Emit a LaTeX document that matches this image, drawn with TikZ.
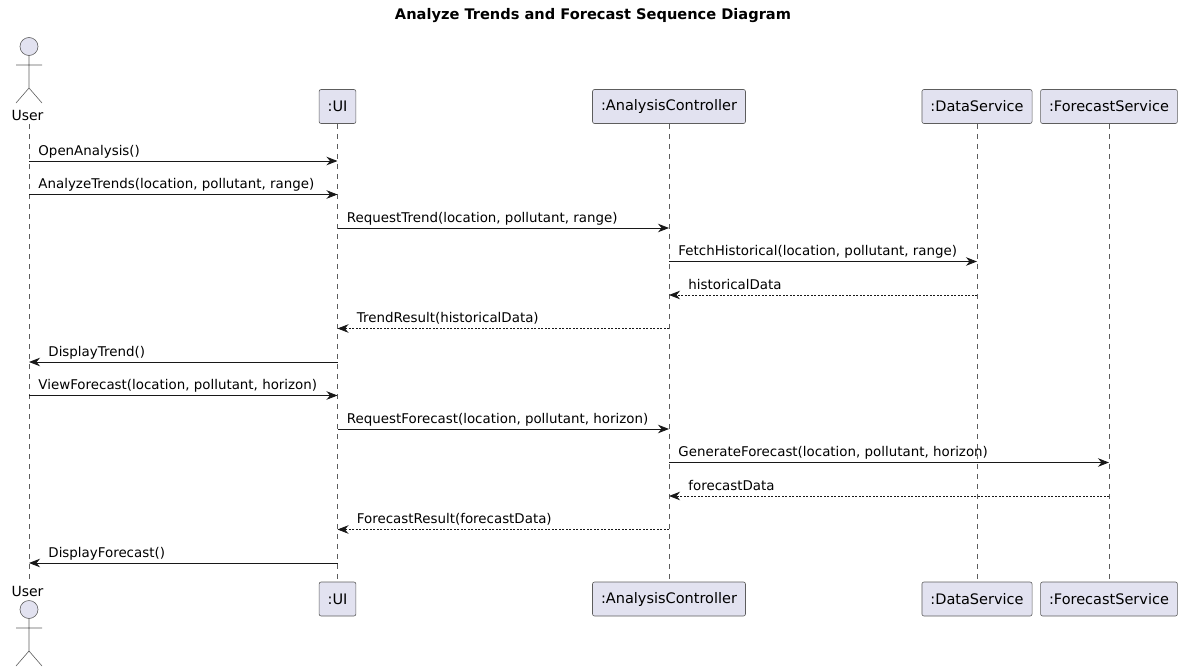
\documentclass[tikz,border=0pt]{standalone}
\usepackage{fontspec}
\setmainfont{DejaVu Sans}
\usepackage{xcolor}
\usetikzlibrary{arrows.meta, positioning}

\definecolor{partfill}{HTML}{E2E2F0}
\definecolor{ink}{HTML}{181818}

\tikzset{
  part/.style={draw=ink!70, fill=partfill, rounded corners=2pt, line width=0.6pt,
    minimum height=34pt, inner xsep=8.5pt, font=\fontsize{14.5}{16}\selectfont},
  life/.style={draw=ink!70, line width=0.6pt, dash pattern=on 5pt off 5pt},
  msg/.style={draw=ink, line width=0.9pt, -{Stealth[length=11pt, width=8.5pt, inset=3.5pt]}},
  ret/.style={msg, dash pattern=on 2pt off 1.5pt},
  lblr/.style={anchor=base west, inner sep=0pt, xshift=9pt, yshift=6pt, font=\fontsize{13.4}{15}\selectfont},
  lbll/.style={lblr, xshift=10pt},
  stick/.style={draw=ink!70, line width=0.6pt},
}

\begin{document}
\begin{tikzpicture}[x=1pt, y=-1pt, node distance=492.5pt, on grid]
\useasboundingbox (0,0) rectangle (1183,669);

\node[font=\fontsize{14.6}{16}\selectfont\bfseries] (title) at (593,16) {Analyze Trends and Forecast Sequence Diagram};

% participants
\node[part] (ui) at (337.5,106.5) {:UI};
\node[part] (ctrl) at (669,106.5) {:AnalysisController};
\node[part] (data) at (977,106.5) {:DataService};
\node[part] (fcst) at (1109,106.5) {:ForecastService};
\node[part] (ui_b) [below=of ui] {:UI};
\node[part] (ctrl_b) [below=of ctrl] {:AnalysisController};
\node[part] (data_b) [below=of data] {:DataService};
\node[part] (fcst_b) [below=of fcst] {:ForecastService};

% actor
\node[inner sep=1pt, font=\fontsize{14}{16}\selectfont] (user) at (27.5,115) {User};
\node[inner sep=1pt, font=\fontsize{14}{16}\selectfont] (user_b) at (27.5,591) {User};
\draw[stick, fill=partfill] (29,46.5) circle (9pt);
\draw[stick] (29,55.5) -- (29,88) (16,65) -- (42,65) (16,103) -- (29,88) -- (42,103);
\draw[stick, fill=partfill] (29,609.5) circle (9pt);
\draw[stick] (29,618.5) -- (29,651) (16,628) -- (42,628) (16,666) -- (29,651) -- (42,666);

% lifelines
\draw[life] (29,124) -- (29,580);
\draw[life] (ui) -- (ui_b);
\draw[life] (ctrl) -- (ctrl_b);
\draw[life] (data) -- (data_b);
\draw[life] (fcst) -- (fcst_b);
\coordinate (u) at (29,0);

% message rows
\foreach \i in {1,...,13}
  \coordinate (r\i) at (0,{127.5+33.5*\i});

\draw[msg] (u |- r1) -- (ui |- r1) node[pos=0, lblr] {OpenAnalysis()};
\draw[msg] (u |- r2) -- (ui |- r2) node[pos=0, lblr] {AnalyzeTrends(location, pollutant, range)};
\draw[msg] (ui |- r3) -- (ctrl |- r3) node[pos=0, lblr] {RequestTrend(location, pollutant, range)};
\draw[msg] (ctrl |- r4) -- (data |- r4) node[pos=0, lblr] {FetchHistorical(location, pollutant, range)};
\draw[ret] (data |- r5) -- (ctrl |- r5) node[pos=1, lbll] {historicalData};
\draw[ret] (ctrl |- r6) -- (ui |- r6) node[pos=1, lbll] {TrendResult(historicalData)};
\draw[msg] (ui |- r7) -- (u |- r7) node[pos=1, lbll] {DisplayTrend()};
\draw[msg] (u |- r8) -- (ui |- r8) node[pos=0, lblr] {ViewForecast(location, pollutant, horizon)};
\draw[msg] (ui |- r9) -- (ctrl |- r9) node[pos=0, lblr] {RequestForecast(location, pollutant, horizon)};
\draw[msg] (ctrl |- r10) -- (fcst |- r10) node[pos=0, lblr] {GenerateForecast(location, pollutant, horizon)};
\draw[ret] (fcst |- r11) -- (ctrl |- r11) node[pos=1, lbll] {forecastData};
\draw[ret] (ctrl |- r12) -- (ui |- r12) node[pos=1, lbll] {ForecastResult(forecastData)};
\draw[msg] (ui |- r13) -- (u |- r13) node[pos=1, lbll] {DisplayForecast()};
\end{tikzpicture}
\end{document}
